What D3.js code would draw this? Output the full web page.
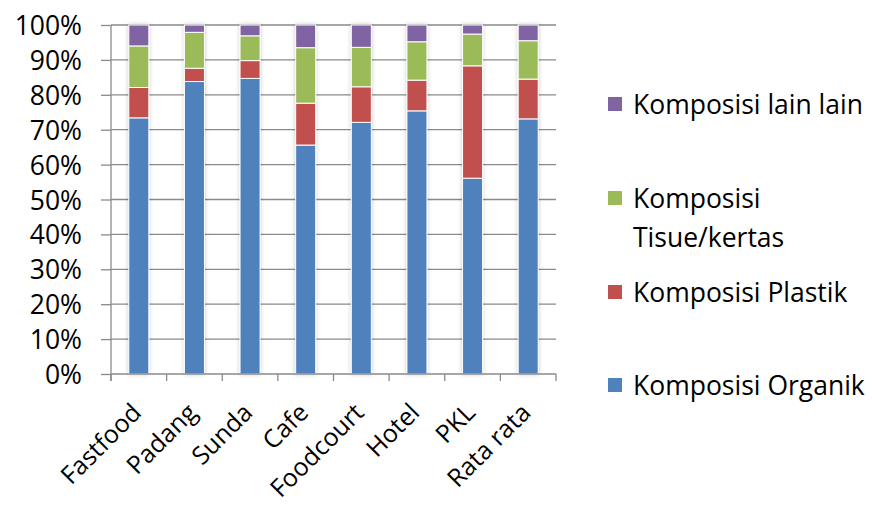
<!DOCTYPE html>
<html>
<head>
<meta charset="utf-8">
<script src="https://cdn.jsdelivr.net/npm/d3@7"></script>
<style>
  body { margin: 0; background: #fff; }
  text { font-family: "Open Sans", Lato, sans-serif; fill: #000; }
  .grid line { stroke: #8a8a8a; stroke-width: 1.3; }
  .axis path, .axis line { stroke: #8a8a8a; stroke-width: 1.3; }
</style>
</head>
<body>
<div id="chart"></div>
<script>
// categories and series (percent)
var categories = ["Fastfood", "Padang", "Sunda", "Cafe", "Foodcourt", "Hotel", "PKL", "Rata rata"];
var organik = [73.4, 83.8, 84.7, 65.6, 72.1, 75.4, 56.1, 73.1];
var plastik = [8.7, 3.8, 5.1, 12.0, 10.2, 8.8, 32.2, 11.4];
var tisue   = [11.9, 10.3, 7.1, 15.9, 11.3, 11.0, 9.1, 11.0];
var lain    = [6.0, 2.1, 3.1, 6.5, 6.4, 4.8, 2.6, 4.5];
var yTicks  = [0, 10, 20, 30, 40, 50, 60, 70, 80, 90, 100];

var seriesNames = ["Komposisi Organik", "Komposisi Plastik", "Komposisi Tisue/kertas", "Komposisi lain lain"];
var seriesValues = [organik, plastik, tisue, lain];
var colors = ["#4f81bd", "#c0504d", "#9bbb59", "#8064a2"];

var W = 872, H = 506;
var margin = {left: 111, top: 25, right: 316, bottom: 132};
var width = W - margin.left - margin.right;
var height = H - margin.top - margin.bottom;

var svg = d3.select("#chart").append("svg")
    .attr("width", W).attr("height", H);

var defs = svg.append("defs");
var f = defs.append("filter").attr("id", "shadow")
    .attr("x", "-30%").attr("y", "-10%").attr("width", "160%").attr("height", "120%");
f.append("feDropShadow").attr("dx", 0).attr("dy", 0)
    .attr("stdDeviation", 2.2).attr("flood-color", "#000").attr("flood-opacity", 0.22);

var g = svg.append("g").attr("transform", "translate(" + margin.left + "," + margin.top + ")");

var x = d3.scaleBand().domain(categories).range([0, width]).paddingInner(0.64).paddingOuter(0.32);
var y = d3.scaleLinear().domain([0, 100]).range([height, 0]);

// gridlines
g.append("g").attr("class", "grid")
  .selectAll("line").data(yTicks.slice(1)).enter().append("line")
  .attr("x1", 0).attr("x2", width)
  .attr("y1", function(d) { return y(d); }).attr("y2", function(d) { return y(d); });

// stack
var rows = categories.map(function(c, i) {
  var r = {cat: c};
  seriesNames.forEach(function(s, j) { r[s] = seriesValues[j][i]; });
  return r;
});
var stacked = d3.stack().keys(seriesNames)(rows);

var bars = g.append("g").selectAll("g.bar").data(categories).enter().append("g")
  .attr("class", "bar").attr("filter", "url(#shadow)");

bars.each(function(c, i) {
  var grp = d3.select(this);
  stacked.forEach(function(layer, j) {
    var d = layer[i];
    grp.append("rect")
      .attr("x", x(c))
      .attr("width", x.bandwidth())
      .attr("y", y(d[1]))
      .attr("height", y(d[0]) - y(d[1]))
      .attr("fill", colors[j])
      .attr("stroke", "#fff")
      .attr("stroke-width", 1);
  });
});

// y axis
var yAxis = g.append("g").attr("class", "axis")
  .call(d3.axisLeft(y).tickValues(yTicks).tickFormat(function(d) { return d + "%"; }).tickSize(10).tickSizeOuter(0));
yAxis.select(".domain").attr("d", "M0," + (height + 7) + "V0");
yAxis.selectAll("text").attr("x", -29).style("font-size", "26.5px").attr("dy", "0.36em");

// x axis
var xAxis = g.append("g").attr("class", "axis")
  .attr("transform", "translate(0," + height + ")")
  .call(d3.axisBottom(x).tickSize(0).tickSizeOuter(0));
xAxis.select(".domain").attr("d", "M0,0H" + width);
// boundary ticks between categories
xAxis.selectAll(".sep").data(d3.range(categories.length + 1)).enter().append("line")
  .attr("class", "sep")
  .attr("x1", function(d) { return d * width / categories.length; })
  .attr("x2", function(d) { return d * width / categories.length; })
  .attr("y1", 0).attr("y2", 7);
xAxis.selectAll(".tick text")
  .style("font-size", "25px")
  .attr("text-anchor", "end")
  .attr("dy", 0)
  .attr("transform", "translate(2,38) rotate(-45)");

// legend
var legendItems = [
  {name: ["Komposisi lain lain"], color: colors[3], y: 104},
  {name: ["Komposisi", "Tisue/kertas"], color: colors[2], y: 198},
  {name: ["Komposisi Plastik"], color: colors[1], y: 292},
  {name: ["Komposisi Organik"], color: colors[0], y: 385}
];
var legend = svg.append("g").attr("class", "legend");
legendItems.forEach(function(it) {
  legend.append("rect").attr("x", 608).attr("y", it.y - 7).attr("width", 14).attr("height", 14)
    .attr("fill", it.color);
  var t = legend.append("text").attr("x", 633).attr("y", it.y)
    .style("font-size", "26.5px");
  it.name.forEach(function(line, k) {
    t.append("tspan").attr("x", 633).attr("dy", k === 0 ? "0.36em" : 39).text(line);
  });
});
</script>
</body>
</html>
